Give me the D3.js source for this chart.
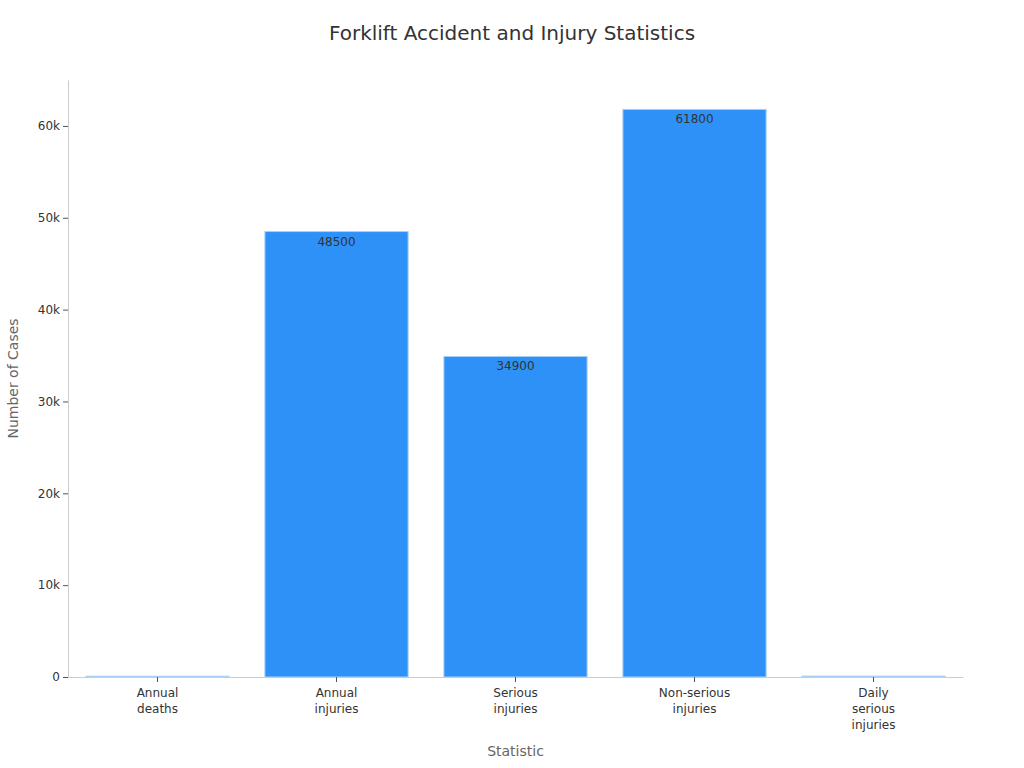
<!DOCTYPE html>
<html>
<head>
<meta charset="utf-8">
<script src="https://cdn.jsdelivr.net/npm/d3@7"></script>
<style>
  body { margin: 0; background: #fff; }
  text { font-family: "DejaVu Sans", sans-serif; }
</style>
</head>
<body>
<script>
// Chart data
const categories = ["Annual deaths", "Annual injuries", "Serious injuries", "Non-serious injuries", "Daily serious injuries"];
const tickLines = [["Annual", "deaths"], ["Annual", "injuries"], ["Serious", "injuries"], ["Non-serious", "injuries"], ["Daily", "serious", "injuries"]];
const cases = [85, 48500, 34900, 61800, 96];
const yTicks = [0, 10000, 20000, 30000, 40000, 50000, 60000];
const yTickLabels = ["0", "10k", "20k", "30k", "40k", "50k", "60k"];

const margin = {top: 80, left: 68, bottom: 91, right: 61};
const width = 1024 - margin.left - margin.right;
const height = 768 - margin.top - margin.bottom;

const svg = d3.select("body").append("svg")
  .attr("width", 1024)
  .attr("height", 768);

const g = svg.append("g")
  .attr("transform", `translate(${margin.left}, ${margin.top})`);

const x = d3.scaleBand()
  .domain(categories)
  .range([0, width])
  .paddingInner(0.2)
  .paddingOuter(0.1);

const y = d3.scaleLinear()
  .domain([0, 65000])
  .range([height, 0]);

// title
svg.append("text")
  .attr("x", 512)
  .attr("y", 40)
  .attr("text-anchor", "middle")
  .attr("font-size", 20)
  .attr("fill", "#333")
  .text("Forklift Accident and Injury Statistics");

// bars
g.selectAll("rect.bar")
  .data(cases)
  .join("rect")
  .attr("class", "bar")
  .attr("x", (d, i) => x(categories[i]))
  .attr("y", d => y(d))
  .attr("width", x.bandwidth())
  .attr("height", d => height - y(d))
  .attr("fill", "#2e91f8")
  .attr("stroke", "#a9d0f5")
  .attr("stroke-width", 1);

// value labels (only where the bar is tall enough)
g.selectAll("text.val")
  .data(cases.filter(d => d > 1000))
  .join("text")
  .attr("class", "val")
  .attr("x", d => x(categories[cases.indexOf(d)]) + x.bandwidth() / 2)
  .attr("y", d => y(d) + 14)
  .attr("text-anchor", "middle")
  .attr("font-size", 12)
  .attr("fill", "#333")
  .text(d => d);

// y axis
const yAxis = g.append("g")
  .call(d3.axisLeft(y).tickValues(yTicks).tickFormat((d, i) => yTickLabels[i]).tickSize(5).tickSizeOuter(0).tickPadding(3));
yAxis.select(".domain").attr("stroke", "#ccc");
yAxis.selectAll(".tick line").attr("stroke", "#555");
yAxis.selectAll(".tick text").attr("font-size", 12).attr("fill", "#333").attr("font-family", "DejaVu Sans, sans-serif");

// x axis
const xAxis = g.append("g")
  .attr("transform", `translate(0, ${height})`)
  .call(d3.axisBottom(x).tickSize(5).tickSizeOuter(0));
xAxis.select(".domain").attr("stroke", "#ccc");
xAxis.selectAll(".tick line").attr("stroke", "#555");
xAxis.selectAll(".tick text").remove();
xAxis.selectAll(".tick").each(function(d, i) {
  const t = d3.select(this).append("text")
    .attr("y", 20)
    .attr("text-anchor", "middle")
    .attr("font-size", 12)
    .attr("fill", "#333")
    .attr("font-family", "DejaVu Sans, sans-serif");
  tickLines[i].forEach((s, k) => {
    t.append("tspan").attr("x", 0).attr("dy", k === 0 ? 0 : 16).text(s);
  });
});

// axis titles
svg.append("text")
  .attr("x", margin.left + width / 2)
  .attr("y", 756)
  .attr("text-anchor", "middle")
  .attr("font-size", 14)
  .attr("fill", "#666")
  .text("Statistic");

svg.append("text")
  .attr("transform", `translate(18, ${margin.top + height / 2}) rotate(-90)`)
  .attr("text-anchor", "middle")
  .attr("font-size", 14)
  .attr("fill", "#666")
  .text("Number of Cases");
</script>
</body>
</html>
